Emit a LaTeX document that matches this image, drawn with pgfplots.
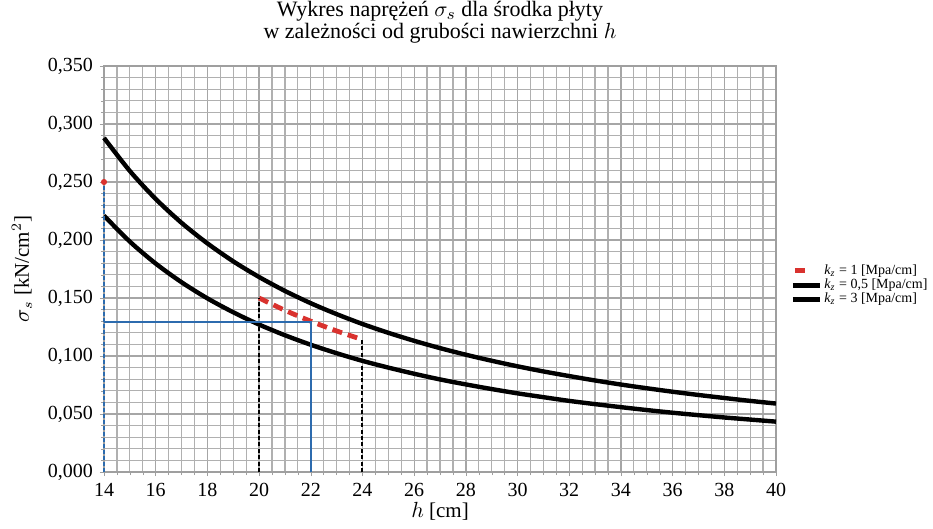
\documentclass[border=0pt]{standalone}
\usepackage{fontspec}
\setmainfont{Liberation Serif}
\usepackage{pgfplots}
\usepackage{pgfplotstable}
\pgfplotsset{compat=1.18}
\usetikzlibrary{calc}

\definecolor{kred}{HTML}{D9322E}
\definecolor{kblue}{HTML}{2C6BAE}
\newcommand{\kz}{\textit{k}\textsubscript{\textit{z}}}

% sigma_s [kN/cm^2] against h [cm]
\pgfplotstableread{
h s
14 0.2880
15 0.2595
16 0.2354
17 0.2148
18 0.1971
19 0.1816
20 0.1681
21 0.1561
22 0.1455
23 0.1361
24 0.1276
25 0.1200
26 0.1131
27 0.1068
28 0.1011
29 0.0959
30 0.0911
31 0.0867
32 0.0827
33 0.0789
34 0.0754
35 0.0722
36 0.0692
37 0.0664
38 0.0638
39 0.0613
40 0.0590
}\kzhalf

\pgfplotstableread{
h s
14 0.2210
15 0.1986
16 0.1797
17 0.1636
18 0.1497
19 0.1377
20 0.1271
21 0.1179
22 0.1097
23 0.1024
24 0.0958
25 0.0900
26 0.0847
27 0.0798
28 0.0755
29 0.0715
30 0.0678
31 0.0645
32 0.0613
33 0.0585
34 0.0559
35 0.0534
36 0.0511
37 0.0490
38 0.0470
39 0.0452
40 0.0434
}\kzthree

\pgfplotstableread{
h s
20 0.1500
21 0.1394
22 0.1300
23 0.1216
24 0.1141
}\kzone

\begin{document}
\begin{tikzpicture}
\begin{axis}[
  scale only axis,
  width=336pt, height=203pt,
  xmin=14, xmax=40, ymin=0, ymax=0.35,
  xtick={14,16,...,40},
  ytick={0,0.05,0.1,0.15,0.2,0.25,0.3,0.35},
  minor x tick num=3,
  minor y tick num=4,
  grid=both,
  major grid style={gray!70, line width=0.65pt},
  minor grid style={gray!62, line width=0.6pt},
  axis line style={gray!75, line width=0.6pt},
  tick style={gray!75},
  tick align=outside,
  xtick pos=lower, ytick pos=left,
  major tick length=2pt, minor tick length=1.5pt,
  clip=false,
  /pgf/number format/assume math mode=true,
  yticklabel style={/pgf/number format/.cd, fixed, fixed zerofill, precision=3, use comma},
  ticklabel style={font=\fontsize{10}{12}\selectfont},
  title={Wykres naprężeń $\sigma_s$ dla środka płyty\\w zależności od grubości nawierzchni $h$},
  title style={font=\fontsize{11}{9.8}\selectfont, align=center,
    at={(axis description cs:0.5,1)}, anchor=south, yshift=2pt},
  xlabel={$h$ [cm]},
  xlabel style={font=\fontsize{10.5}{12}\selectfont,
    at={(axis description cs:0.5,0)}, anchor=center, yshift=-19.5pt},
  ylabel={$\sigma_s$ [kN/cm$^2$]},
  ylabel style={font=\fontsize{10.5}{12}\selectfont,
    at={(axis description cs:-0.122,0.5)}, anchor=center},
  legend style={draw=none, fill=none, at={(axis description cs:1.021,0.517)},
    anchor=north west, inner sep=0pt, row sep=-1.2pt,
    font=\fontsize{7}{7.5}\selectfont,
    nodes={inner sep=1pt, anchor=west}},
  legend cell align=left,
]
% k_z = 1 between the two read-off thicknesses
\addplot[kred, line width=2.4pt, dash pattern=on 5pt off 3pt, smooth,
  legend image code/.code={\draw[kred, line width=2.4pt] (1pt,0pt) -- (7.5pt,0pt);}]
  table[x=h, y=s] {\kzone};
\addlegendentry{\kz{} = 1 [Mpa/cm]}
\addplot[black, line width=2.2pt, smooth,
  legend image code/.code={\draw[black, line width=2.4pt] (0pt,0pt) -- (13.5pt,0pt);}]
  table[x=h, y=s] {\kzhalf};
\addlegendentry{\kz{} = 0,5 [Mpa/cm]}
\addplot[black, line width=2.2pt, smooth,
  legend image code/.code={\draw[black, line width=2.4pt] (0pt,0pt) -- (13.5pt,0pt);}]
  table[x=h, y=s] {\kzthree};
\addlegendentry{\kz{} = 3 [Mpa/cm]}

% read-off lines
\addplot[forget plot, kblue, line width=0.9pt, dash pattern=on 2pt off 1pt]
  coordinates {(14,0) (14,0.250)};
\addplot[forget plot, black, line width=1pt, dash pattern=on 2pt off 1.2pt]
  coordinates {(20,0) (20,0.150)};
\addplot[forget plot, black, line width=1pt, dash pattern=on 2pt off 1.2pt]
  coordinates {(24,0) (24,0.1141)};
\addplot[forget plot, kblue, line width=1.1pt]
  coordinates {(14,0.129) (22,0.129) (22,0)};
\addplot[forget plot, only marks, mark=*, mark size=1.3pt, kred]
  coordinates {(14,0.250)};
\end{axis}
\pgfresetboundingbox
\path[use as bounding box] ($(current axis.south west)+(-52pt,-28pt)$)
  rectangle ($(current axis.north east)+(78.5pt,33pt)$);
\end{tikzpicture}
\end{document}
